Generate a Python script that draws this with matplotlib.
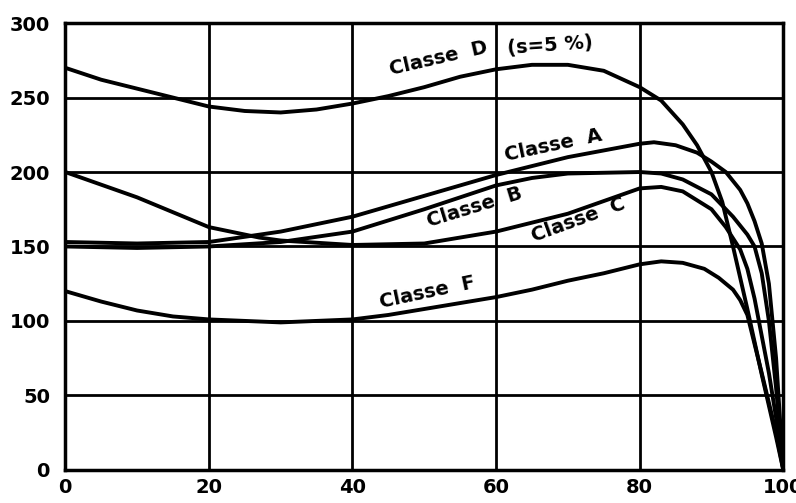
import numpy as np
import matplotlib.pyplot as plt

# courbes couple / vitesse
x_d = [0, 5, 10, 15, 20, 25, 30, 35, 40, 45, 50, 55, 60, 65, 70, 75, 80, 83, 86, 88, 90, 91.5, 93, 95, 97, 99, 100]
y_d = [270, 262, 256, 250, 244, 241, 240, 242, 246, 251, 257, 264, 269, 272, 272, 268, 257, 248, 232, 218, 200, 180, 150, 108, 64, 22, 0]

x_a = [0, 10, 20, 30, 40, 50, 60, 70, 80, 82, 85, 88, 90, 92, 94, 95, 96, 97, 98, 99, 100]
y_a = [153, 152, 153, 160, 170, 184, 198, 210, 219, 220, 218, 213, 207, 200, 188, 179, 167, 152, 125, 75, 0]

x_b = [0, 10, 20, 30, 40, 50, 60, 65, 70, 80, 83, 86, 90, 93, 95, 96, 97, 98, 99, 100]
y_b = [150, 149, 150, 153, 160, 175, 191, 196, 199, 200, 199, 195, 185, 170, 158, 150, 132, 100, 55, 0]

x_c = [0, 10, 20, 27, 30, 40, 50, 55, 60, 70, 80, 83, 86, 90, 92, 94, 95, 96, 97, 98, 99, 100]
y_c = [200, 183, 163, 156, 154, 151, 152, 156, 160, 172, 189, 190, 187, 175, 163, 148, 135, 115, 90, 65, 35, 0]

x_f = [0, 5, 10, 15, 20, 25, 30, 35, 40, 45, 50, 55, 60, 65, 70, 75, 80, 83, 86, 89, 91, 93, 94, 95, 97, 99, 100]
y_f = [120, 113, 107, 103, 101, 100, 99, 100, 101, 104, 108, 112, 116, 121, 127, 132, 138, 140, 139, 135, 129, 121, 114, 104, 65, 25, 0]

xticks = [0, 20, 40, 60, 80, 100]
yticks = [0, 50, 100, 150, 200, 250, 300]

fig = plt.figure(figsize=(7.96, 5.03), dpi=100)
ax = fig.add_axes([0.082, 0.066, 0.902, 0.888])

for xs, ys in [(x_d, y_d), (x_a, y_a), (x_b, y_b), (x_c, y_c), (x_f, y_f)]:
    ax.plot(xs, ys, color='black', lw=2.8, solid_joinstyle='round', solid_capstyle='round', zorder=3)

ax.set_xlim(0, 100)
ax.set_ylim(0, 300)
ax.set_xticks(xticks)
ax.set_yticks(yticks)
ax.grid(True, color='black', lw=2.0)
ax.set_axisbelow(True)
for s in ax.spines.values():
    s.set_linewidth(2.5)
ax.tick_params(axis='y', length=0, pad=11, labelsize=14)
ax.tick_params(axis='x', length=0, pad=6, labelsize=14)
for lab in ax.get_xticklabels() + ax.get_yticklabels():
    lab.set_fontweight('bold')

tk = dict(fontsize=14, fontweight='bold', ha='center', va='center', zorder=4)
ax.text(52, 276, 'Classe  D', rotation=13, **tk)
ax.text(67.5, 285, '(s=5 %)', rotation=4, **tk)
ax.text(68, 218, 'Classe  A', rotation=12, **tk)
ax.text(57, 176, 'Classe  B', rotation=17, **tk)
ax.text(71.5, 168, 'Classe  C', rotation=20, **tk)
ax.text(50.5, 119, 'Classe  F', rotation=12, **tk)

fig.savefig('out.png', dpi=100)
